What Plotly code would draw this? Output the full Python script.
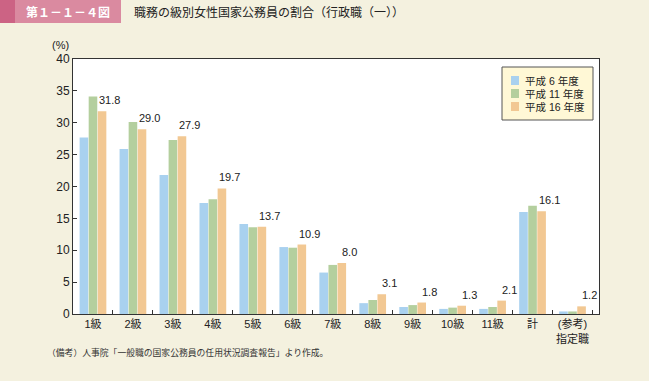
import plotly.graph_objects as go

categories = ["1級", "2級", "3級", "4級", "5級", "6級", "7級", "8級", "9級", "10級", "11級", "計", "(参考)<br>指定職"]
h6 = [27.7, 25.9, 21.8, 17.4, 14.1, 10.5, 6.5, 1.7, 1.1, 0.8, 0.8, 16.0, 0.4]
h11 = [34.1, 30.1, 27.3, 18.0, 13.6, 10.4, 7.7, 2.2, 1.4, 1.0, 1.1, 17.0, 0.4]
h16 = [31.8, 29.0, 27.9, 19.7, 13.7, 10.9, 8.0, 3.1, 1.8, 1.3, 2.1, 16.1, 1.2]
series_names = ["平成 6 年度", "平成 11 年度", "平成 16 年度"]
y_ticks = [0, 5, 10, 15, 20, 25, 30, 35, 40]

FONT = "Liberation Sans, Noto Sans CJK JP, sans-serif"
CJK = "Noto Sans CJK JP, Noto Sans, sans-serif"
colors = ["#A9D1EF", "#B4CF9E", "#F2C893"]

fig = go.Figure()
for name, vals, col in zip(series_names, [h6, h11, h16], colors):
    fig.add_trace(go.Bar(x=categories, y=vals, name=name, showlegend=False,
                         marker=dict(color=col, line=dict(width=0))))

L, R, T, B = 73, 50, 59, 67
W, H = 649, 381
pw, ph = W - L - R, H - T - B

def px(x):
    return (x - L) / pw

def py(y):
    return (H - B - y) / ph

anns = []
for c, v in zip(categories, h16):
    anns.append(dict(x=c, y=v, xref="x", yref="y", text=f"{v:.1f}", showarrow=False,
                     xanchor="center", yanchor="bottom", xshift=17, yshift=3,
                     font=dict(size=11, color="#222222", family=FONT)))

shapes = [
    dict(type="rect", xref="paper", yref="paper", x0=px(0), x1=px(15), y0=py(23), y1=py(0),
         fillcolor="#CC6384", line=dict(width=0), layer="above"),
    dict(type="rect", xref="paper", yref="paper", x0=px(15), x1=px(121), y0=py(23), y1=py(0),
         fillcolor="#DA8AA0", line=dict(width=0), layer="above"),
    # legend box
    dict(type="rect", xref="paper", yref="paper", x0=px(502), x1=px(593), y0=py(120), y1=py(67),
         fillcolor="#FFF8D6", line=dict(width=1, color="#555555"), layer="above"),
]
row_y = [80.5, 93.5, 106.5]
for name, col, ry in zip(series_names, colors, row_y):
    shapes.append(dict(type="rect", xref="paper", yref="paper", x0=px(511), x1=px(519),
                       y0=py(ry + 4.5), y1=py(ry - 4.5), fillcolor=col, line=dict(width=0), layer="above"))
    anns.append(dict(text=name, xref="paper", yref="paper", x=px(523), y=py(ry),
                     xanchor="left", yanchor="middle", showarrow=False,
                     font=dict(size=10.5, color="#222222", family=FONT)))

fig.update_layout(
    width=W, height=H,
    margin=dict(l=L, r=R, t=T, b=B, autoexpand=False),
    paper_bgcolor="#F4F1DF", plot_bgcolor="#FFFFFF",
    barmode="group", bargap=0.32, bargroupgap=0.05,
    font=dict(family=FONT, size=11, color="#222222"),
    showlegend=False,
    xaxis=dict(
        showline=True, linecolor="#333333", linewidth=1, mirror=True,
        ticks="inside", ticklen=4, tickcolor="#333333", tickson="boundaries",
        tickangle=0, automargin=False,
        tickfont=dict(size=11, family=FONT),
    ),
    yaxis=dict(
        range=[0, 40], tickvals=y_ticks, showgrid=False, zeroline=False,
        showline=True, linecolor="#333333", linewidth=1, mirror=True,
        ticks="inside", ticklen=4, tickcolor="#333333", automargin=False,
        tickfont=dict(size=12, family=FONT),
    ),
    shapes=shapes,
    annotations=anns + [
        dict(text="<b>第１－１－４図</b>", xref="paper", yref="paper", x=px(68), y=py(11.5),
             xanchor="center", yanchor="middle", showarrow=False,
             font=dict(size=12, color="#FFFFFF", family=CJK)),
        dict(text="職務の級別女性国家公務員の割合（行政職（一））", xref="paper", yref="paper",
             x=px(132), y=py(11.5), xanchor="left", yanchor="middle", showarrow=False,
             font=dict(size=12, color="#222222", family=CJK)),
        dict(text="(%)", xref="paper", yref="paper", x=px(71), y=py(45),
             xanchor="right", yanchor="middle", showarrow=False,
             font=dict(size=11, color="#222222", family=FONT)),
        dict(text="（備考）人事院「一般職の国家公務員の任用状況調査報告」より作成。", xref="paper", yref="paper",
             x=px(45), y=py(352), xanchor="left", yanchor="middle", showarrow=False,
             font=dict(size=8.8, color="#333333", family=CJK)),
    ],
)

fig.write_html("out.html", config={"displayModeBar": False},
               post_script="document.body.style.margin='0';document.body.style.background='#F4F1DF';")
